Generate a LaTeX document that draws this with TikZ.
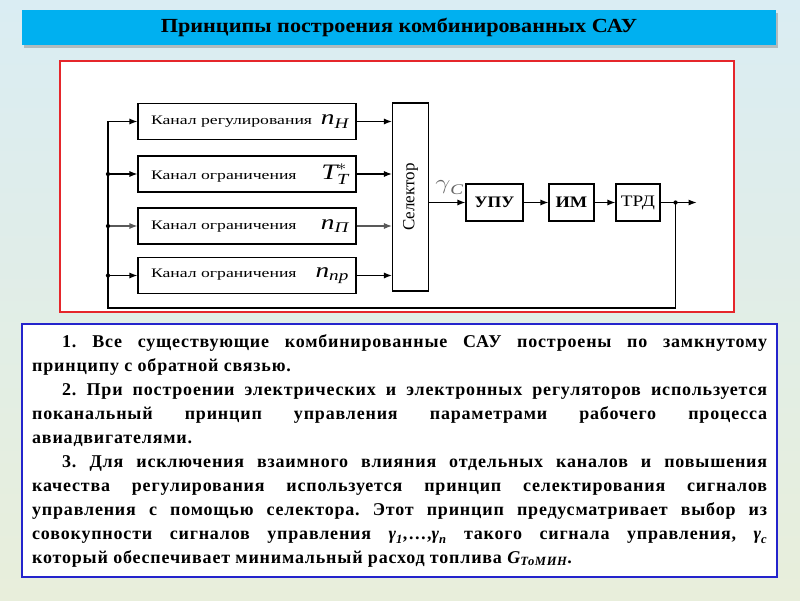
\documentclass[tikz,border=0pt]{standalone}
\usepackage{amsmath}
\usepackage{graphicx}
\usepackage{fontspec}
\setmainfont{Liberation Serif}
\newfontfamily\razbros{Liberation Serif}[LetterSpace=4.5]
\usetikzlibrary{arrows.meta, shadows}

\definecolor{bgtop}{HTML}{DAEDF3}
\definecolor{bgmid}{HTML}{FAE5D6}
\definecolor{bgbot}{HTML}{E8EEDB}
\definecolor{titleblue}{HTML}{00B0F0}
\definecolor{framered}{HTML}{E5262B}
\definecolor{frameblue}{HTML}{2424CC}

\newcommand{\velich}[2]{$\textit{#1}_{\textit{#2}}$}
\newcommand{\shir}[1]{\scalebox{1.36}[1]{#1}}

\tikzset{
    blok/.style={draw, line width=1.1pt, fill=white, inner sep=0pt},
    kanal/.style={blok, minimum width=218pt, minimum height=36pt},
    zv/.style={line width=1.1pt, -{Latex[length=8pt, width=6pt]}},
    tochka/.style={circle, fill, inner sep=1.5pt}
}

\begin{document}
\frenchspacing
\begin{tikzpicture}[x=1pt, y=-1pt, font=\fontsize{13}{15}\selectfont]
    \shade[top color=bgtop, middle color=bgmid, bottom color=bgbot] (0,0) rectangle (800,600);
    \useasboundingbox (0,0) rectangle (800,600);
    % title bar
    \node[fill=titleblue, minimum width=754pt, minimum height=35pt, inner sep=0pt,
        drop shadow={shadow xshift=1.5pt, shadow yshift=-3pt, opacity=0.45},
        font=\fontsize{20}{22}\selectfont\bfseries] (zag) at (399,27.5)
        {\scalebox{1.11}[1]{Принципы построения комбинированных САУ}};
    % frame of the scheme
    \draw[framered, line width=2pt, fill=white] (60,61) rectangle (734,312);
    % channels
    \node[kanal] (k1) at (247,121.5) {\hbox to 204pt{\kern6pt\shir{Канал регулирования}\hfill{\fontsize{21}{21}\selectfont\scalebox{1.3}[1]{\velich{n}{Н}}}}};
    \node[kanal] (k2) at (247,174) {\hbox to 204pt{\kern6pt\shir{Канал ограничения}\hfill{\fontsize{22}{22}\selectfont\scalebox{1.3}[1]{$\textit{T}^{*}_{\textit{Т}}$}}}};
    \node[kanal] (k3) at (247,226) {\hbox to 204pt{\kern6pt\shir{Канал ограничения}\hfill{\fontsize{21}{21}\selectfont\scalebox{1.3}[1]{\velich{n}{П}}}}};
    \node[kanal] (k4) at (247,275.5) {\hbox to 204pt{\kern6pt\shir{Канал ограничения}\hfill{\fontsize{21}{21}\selectfont\scalebox{1.3}[1]{\velich{n}{пр}}}}};
    \node[blok, minimum width=36pt, minimum height=188pt, font=\fontsize{17}{19}\selectfont] (sel) at (410.5,197) {\rotatebox{90}{Селектор}};
    \node[blok, minimum width=57pt, minimum height=37pt, font=\fontsize{16}{18}\selectfont\bfseries] (upu) at (494.5,202.5) {\scalebox{1.1}[1]{УПУ}};
    \node[blok, minimum width=45pt, minimum height=37pt, font=\fontsize{16}{18}\selectfont\bfseries] (im) at (571.5,202.5) {\scalebox{1.15}[1]{ИМ}};
    \node[blok, minimum width=44pt, minimum height=37pt, font=\fontsize{16}{18}\selectfont] (trd) at (638,202.5) {\scalebox{1.2}[1]{ТРД}};
    \coordinate (vyh) at (sel.east |- upu.west);
    \coordinate (uzel) at ([xshift=15pt]trd.east);
    \coordinate (konec) at ([xshift=36pt]trd.east);
    \coordinate (lev) at (108,308);
    \node[text=black!60, font=\fontsize{21}{21}\selectfont, anchor=base west, inner sep=0pt] (gam) at ([shift={(6pt,13pt)}]vyh) {\scalebox{1.3}[1]{\velich{$\gamma$}{С}}};
    % connectors
    \draw[zv] (k1.east) -- (k1.east -| sel.west);
    \draw[zv] (k2.east) -- (k2.east -| sel.west);
    \draw[zv, black!65] (k3.east) -- (k3.east -| sel.west);
    \draw[zv] (k4.east) -- (k4.east -| sel.west);
    \draw[zv] (vyh) -- (upu.west);
    \draw[zv] (upu.east) -- (im.west);
    \draw[zv] (im.east) -- (trd.west);
    \draw[zv] (trd.east) -- (konec);
    \draw[zv] (uzel) |- (lev) |- (k1.west);
    \draw[zv] (lev |- k2.west) -- (k2.west);
    \draw[zv, black!65] (lev |- k3.west) -- (k3.west);
    \draw[zv] (lev |- k4.west) -- (k4.west);
    \node[tochka] at (uzel) {};
    \node[tochka] at (lev |- k2.west) {};
    \node[tochka] at (lev |- k3.west) {};
    \node[tochka] at (lev |- k4.west) {};
    % text
    \draw[frameblue, line width=2pt, fill=white] (22,324) rectangle (777,577);
    \node[anchor=base west, text width=735pt, align=justify, inner sep=0pt, font=\fontsize{18}{24}\selectfont\razbros\bfseries] (tekst) at (32,347) {%
        \hspace*{30pt}1. Все существующие комбинированные САУ построены по замкнутому\linebreak
        принципу с обратной связью.\par
        \hspace*{30pt}2. При построении электрических и электронных регуляторов используется\linebreak
        поканальный принцип управления параметрами рабочего процесса\linebreak
        авиадвигателями.\par
        \hspace*{30pt}3. Для исключения взаимного влияния отдельных каналов и повышения\linebreak
        качества регулирования используется принцип селектирования сигналов\linebreak
        управления с помощью селектора. Этот принцип предусматривает выбор из\linebreak
        совокупности сигналов управления $\textit{γ}_{\textit{1}}$,…,$\textit{γ}_{\textit{n}}$ такого сигнала управления, $\textit{γ}_{\textit{c}}$\linebreak
        который обеспечивает минимальный расход топлива $\textit{G}_{\textit{ТоМИН}}$.};
\end{tikzpicture}
\end{document}
